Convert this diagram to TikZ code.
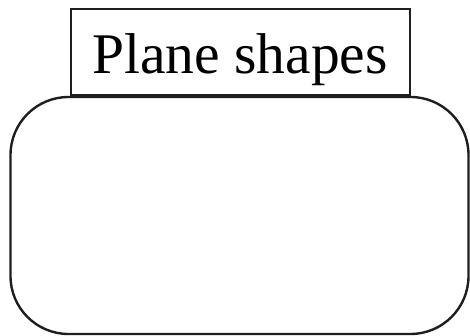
\documentclass[tikz,border=0pt]{standalone}
\usepackage{fontspec}
\setmainfont{Liberation Serif}
\usepackage{xcolor}
\usetikzlibrary{positioning}
\definecolor{boxstroke}{RGB}{30,30,30}
\tikzset{
  titlebox/.style={draw=boxstroke, fill=white, line width=2pt,
                   minimum width=339pt, text height=65pt, text depth=21pt,
                   inner sep=0pt, font=\fontsize{57.5}{60}\selectfont},
  panelbox/.style={draw=boxstroke, fill=white, line width=2.4pt,
                   rounded corners=58pt, minimum width=458pt,
                   minimum height=237pt, inner sep=0pt},
}

\begin{document}
\begin{tikzpicture}[x=1pt, y=-1pt]
\useasboundingbox (0,0) rectangle (470,336);
% big rounded panel below, title box sits on its top edge
\node[panelbox] (panel) at (239.5,215.5) {};
\node[titlebox, above=0pt of panel.north, xshift=0.5pt] (title) {Plane shapes};
\end{tikzpicture}
\end{document}
